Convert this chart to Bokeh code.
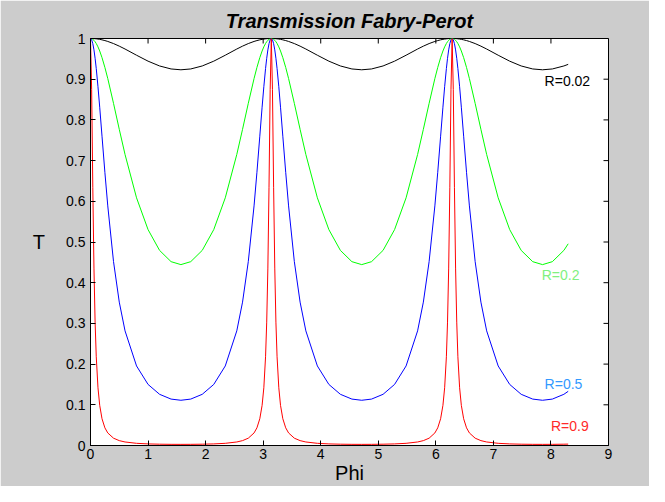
import math
from bokeh.plotting import figure
from bokeh.models import Range1d, FixedTicker, Label
from bokeh.embed import file_html
from bokeh.resources import INLINE

# ---- data ----
phi = [0, 0.02, 0.04, 0.06, 0.08, 0.1, 0.13, 0.16, 0.2, 0.25, 0.3, 0.4, 0.5, 0.6, 0.8, 1.0, 1.2, 1.4, 1.5708,
       1.7416, 1.9416, 2.1416, 2.3416, 2.5416, 2.6416, 2.7416, 2.8416, 2.8916, 2.9416, 2.9816, 3.0116, 3.0416, 3.0616, 3.0816, 3.1016, 3.1216, 3.1416,
       3.1616, 3.1816, 3.2016, 3.2216, 3.2416, 3.2716, 3.3016, 3.3416, 3.3916, 3.4416, 3.5416, 3.6416, 3.7416, 3.9416, 4.1416, 4.3416, 4.5416, 4.7124,
       4.8832, 5.0832, 5.2832, 5.4832, 5.6832, 5.7832, 5.8832, 5.9832, 6.0332, 6.0832, 6.1232, 6.1532, 6.1832, 6.2032, 6.2232, 6.2432, 6.2632, 6.2832,
       6.3032, 6.3232, 6.3432, 6.3632, 6.3832, 6.4132, 6.4432, 6.4832, 6.5332, 6.5832, 6.6832, 6.7832, 6.8832, 7.0832, 7.2832, 7.4832, 7.6832, 7.854,
       8.0248, 8.2248, 8.2998]

T_R002 = [1.0, 1.0, 0.99987, 0.9997, 0.99947, 0.99917, 0.9986, 0.99789, 0.99672, 0.99493, 0.99278, 0.98753, 0.98121, 0.97413, 0.9589, 0.9443, 0.93252, 0.92516, 0.92311,
          0.92516, 0.93252, 0.9443, 0.9589, 0.97413, 0.98121, 0.98753, 0.99278, 0.99493, 0.99672, 0.99789, 0.9986, 0.99917, 0.99947, 0.9997, 0.99987, 1.0, 1.0,
          1.0, 0.99987, 0.9997, 0.99947, 0.99917, 0.9986, 0.99789, 0.99672, 0.99493, 0.99278, 0.98753, 0.98121, 0.97413, 0.9589, 0.9443, 0.93252, 0.92516, 0.92311,
          0.92516, 0.93252, 0.9443, 0.9589, 0.97413, 0.98121, 0.98753, 0.99278, 0.99493, 0.99672, 0.99789, 0.9986, 0.99917, 0.99947, 0.9997, 0.99987, 1.0, 1.0,
          1.0, 0.99987, 0.9997, 0.99947, 0.99917, 0.9986, 0.99789, 0.99672, 0.99493, 0.99278, 0.98753, 0.98121, 0.97413, 0.9589, 0.9443, 0.93252, 0.92516, 0.92311,
          0.92516, 0.93252, 0.93649]

T_R02 = [1.0, 0.9995, 0.998, 0.99553, 0.99208, 0.98769, 0.97943, 0.96925, 0.95298, 0.92893, 0.90158, 0.84065, 0.77681, 0.71504, 0.60855, 0.53048, 0.47942, 0.45169, 0.44444,
         0.45169, 0.47942, 0.53048, 0.60855, 0.71504, 0.77681, 0.84065, 0.90158, 0.92893, 0.95298, 0.96925, 0.97943, 0.98769, 0.99208, 0.99553, 0.998, 0.9995, 1.0,
         0.9995, 0.998, 0.99553, 0.99208, 0.98769, 0.97943, 0.96925, 0.95298, 0.92893, 0.90158, 0.84065, 0.77681, 0.71504, 0.60855, 0.53048, 0.47942, 0.45169, 0.44444,
         0.45169, 0.47942, 0.53048, 0.60855, 0.71504, 0.77681, 0.84065, 0.90158, 0.92893, 0.95298, 0.96925, 0.97943, 0.98769, 0.99208, 0.99553, 0.998, 0.9995, 1.0,
         0.9995, 0.998, 0.99553, 0.99208, 0.98769, 0.97943, 0.96925, 0.95298, 0.92893, 0.90158, 0.84065, 0.77681, 0.71504, 0.60855, 0.53048, 0.47942, 0.45169, 0.44444,
         0.45169, 0.47942, 0.49563]

T_R05 = [1.0, 0.99681, 0.98736, 0.97204, 0.95139, 0.92615, 0.88149, 0.83122, 0.76001, 0.67129, 0.5887, 0.45184, 0.35226, 0.28164, 0.19543, 0.15005, 0.12579, 0.11404, 0.11111,
         0.11404, 0.12579, 0.15005, 0.19543, 0.28164, 0.35226, 0.45184, 0.5887, 0.67129, 0.76001, 0.83122, 0.88149, 0.92615, 0.95139, 0.97204, 0.98736, 0.99681, 1.0,
         0.99681, 0.98736, 0.97204, 0.95139, 0.92615, 0.88149, 0.83122, 0.76001, 0.67129, 0.5887, 0.45184, 0.35226, 0.28164, 0.19543, 0.15005, 0.12579, 0.11404, 0.11111,
         0.11404, 0.12579, 0.15005, 0.19543, 0.28164, 0.35226, 0.45184, 0.5887, 0.67129, 0.76001, 0.83122, 0.88149, 0.92615, 0.95139, 0.97204, 0.98736, 0.99681, 1.0,
         0.99681, 0.98736, 0.97204, 0.95139, 0.92615, 0.88149, 0.83122, 0.76001, 0.67129, 0.5887, 0.45184, 0.35226, 0.28164, 0.19543, 0.15005, 0.12579, 0.11404, 0.11111,
         0.11404, 0.12579, 0.13311]

T_R09 = [1.0, 0.87413, 0.63452, 0.43589, 0.30313, 0.21795, 0.14185, 0.09864, 0.06575, 0.04341, 0.03083, 0.01799, 0.01194, 0.00864, 0.00537, 0.00391, 0.00319, 0.00285, 0.00277,
         0.00285, 0.00319, 0.00391, 0.00537, 0.00864, 0.01194, 0.01799, 0.03083, 0.04341, 0.06575, 0.09864, 0.14185, 0.21795, 0.30313, 0.43589, 0.63452, 0.87413, 1.0,
         0.87413, 0.63452, 0.43589, 0.30313, 0.21795, 0.14185, 0.09864, 0.06575, 0.04341, 0.03083, 0.01799, 0.01194, 0.00864, 0.00537, 0.00391, 0.00319, 0.00285, 0.00277,
         0.00285, 0.00319, 0.00391, 0.00537, 0.00864, 0.01194, 0.01799, 0.03083, 0.04341, 0.06575, 0.09864, 0.14185, 0.21795, 0.30313, 0.43589, 0.63452, 0.87413, 1.0,
         0.87413, 0.63452, 0.43589, 0.30313, 0.21795, 0.14185, 0.09864, 0.06575, 0.04341, 0.03083, 0.01799, 0.01194, 0.00864, 0.00537, 0.00391, 0.00319, 0.00285, 0.00277,
         0.00285, 0.00319, 0.0034]

series_labels = ["R=0.02", "R=0.2", "R=0.5", "R=0.9"]
label_x = [7.89, 7.84, 7.89, 8.0]
label_y = [0.895, 0.419, 0.15, 0.049]

x_ticks = [0, 1, 2, 3, 4, 5, 6, 7, 8, 9]
x_tick_labels = ["0", "1", "2", "3", "4", "5", "6", "7", "8", "9"]
y_ticks = [0, 0.1, 0.2, 0.3, 0.4, 0.5, 0.6, 0.7, 0.8, 0.9, 1]
y_tick_labels = ["0", "0.1", "0.2", "0.3", "0.4", "0.5", "0.6", "0.7", "0.8", "0.9", "1"]

X_MIN, X_MAX = 0, 9
Y_MIN, Y_MAX = 0, 1

# ---- styles ----
FONT = "Liberation Sans"
TICK_LEN = 5
line_colors = ["#000000", "#00ff00", "#0000ff", "#ff0000"]
text_colors = ["#000000", "#80f080", "#3399ff", "#ff2a2a"]

p = figure(width=649, height=486, output_backend="svg", toolbar_location=None,
           x_range=Range1d(X_MIN, X_MAX), y_range=Range1d(Y_MIN, Y_MAX),
           min_border_left=90, min_border_right=41, min_border_top=37, min_border_bottom=41,
           background_fill_color="white", border_fill_color="#cccccc",
           title="Transmission Fabry-Perot")

p.outline_line_color = "black"
p.outline_line_width = 1
p.xgrid.visible = False
p.ygrid.visible = False

p.title.text_font = FONT
p.title.text_font_style = "bold italic"
p.title.text_font_size = "20px"
p.title.align = "center"
p.title.text_line_height = 0.7
p.title.text_color = "black"
p.title.standoff = 14

def style_axis(ax, ticks, labels):
    ax.ticker = FixedTicker(ticks=ticks, minor_ticks=[])
    ax.major_tick_in = TICK_LEN
    ax.major_tick_out = 0
    ax.minor_tick_in = 0
    ax.minor_tick_out = 0
    ax.axis_line_color = "black"
    ax.major_tick_line_color = "black"
    ax.major_label_overrides = {t: s for t, s in zip(ticks, labels)}
    ax.major_label_text_font = FONT
    ax.major_label_text_font_size = "14px"
    ax.major_label_text_color = "black"
    ax.axis_label_text_font = FONT
    ax.axis_label_text_font_style = "normal"
    ax.axis_label_text_font_size = "20px"
    ax.axis_label_text_color = "black"

style_axis(p.xaxis[0], x_ticks, x_tick_labels)
style_axis(p.yaxis[0], y_ticks, y_tick_labels)

p.xaxis.axis_label = "Phi"
p.xaxis.major_label_standoff = 3
p.xaxis.axis_label_standoff = 0

p.yaxis.axis_label = "T"
p.yaxis.axis_label_orientation = "horizontal"
p.yaxis.major_label_standoff = 5
p.yaxis.axis_label_standoff = 18

# box ticks on top and right sides (MATLAB style), placed from the tick lists
p.ray(x=x_ticks, y=[Y_MAX] * len(x_ticks), length=TICK_LEN, length_units="screen",
      angle=-math.pi / 2, line_color="black", line_width=1)
p.ray(x=[X_MAX] * len(y_ticks), y=y_ticks, length=TICK_LEN, length_units="screen",
      angle=math.pi, line_color="black", line_width=1)

for ys, c in zip([T_R002, T_R02, T_R05, T_R09], line_colors):
    p.line(phi, ys, line_color=c, line_width=1)

for txt, lx, ly, c in zip(series_labels, label_x, label_y, text_colors):
    p.add_layout(Label(x=lx, y=ly, text=txt, text_baseline="middle", text_align="left",
                       text_font=FONT, text_font_size="14px", text_color=c))

open("out.html", "w").write(file_html(p, INLINE))
